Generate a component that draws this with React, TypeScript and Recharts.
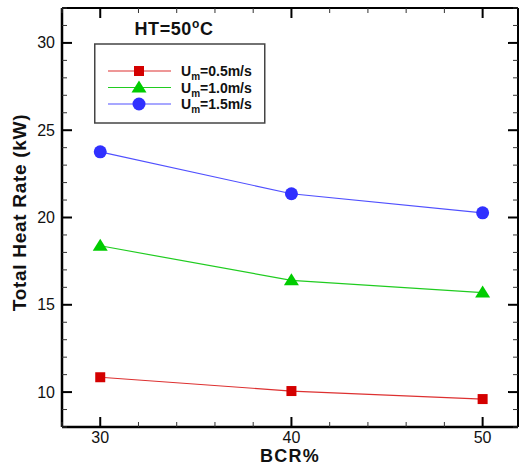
import React from 'react';
import { LineChart, Line, XAxis, YAxis, Legend, Label } from 'recharts';

const bcr = [30, 40, 50];
const um05 = [10.85, 10.06, 9.6];
const um10 = [18.38, 16.4, 15.7];
const um15 = [23.76, 21.36, 20.27];
const xTicks = [28, 30, 32, 34, 36, 38, 40, 42, 44, 46, 48, 50];
const yTicks = [8, 9, 10, 11, 12, 13, 14, 15, 16, 17, 18, 19, 20, 21, 22, 23, 24, 25, 26, 27, 28, 29, 30, 31, 32];
const xMajor = 10;
const yMajor = 5;
const seriesLabels = ['0.5', '1.0', '1.5'];
const titleText = 'HT=50';

const data = bcr.map((b, i) => ({ bcr: b, s05: um05[i], s10: um10[i], s15: um15[i] }));

const FONT = '"Liberation Sans", Arial, Helvetica, sans-serif';

const series = [
  { key: 's05', label: seriesLabels[0], line: '#dd3030', fill: '#d40000', shape: 'square' },
  { key: 's10', label: seriesLabels[1], line: '#20cc20', fill: '#00cc00', shape: 'triangle' },
  { key: 's15', label: seriesLabels[2], line: '#5050ff', fill: '#3030ff', shape: 'circle' },
];

const Marker = ({ cx, cy, shape, fill }: any) => {
  if (cx == null || cy == null) return null;
  if (shape === 'square') return <rect x={cx - 5} y={cy - 5} width={10} height={10} fill={fill} />;
  if (shape === 'triangle')
    return <polygon points={`${cx},${cy - 7} ${cx - 7.5},${cy + 5} ${cx + 7.5},${cy + 5}`} fill={fill} />;
  return <circle cx={cx} cy={cy} r={6.5} fill={fill} />;
};

const makeTick = (orient: string, majorStep: number, showLabel: boolean) => (props: any) => {
  const { x, y, payload } = props;
  const v = payload.value;
  const major = Math.abs(v % majorStep) < 1e-9;
  const len = major ? 10 : 5;
  const sw = major ? 2 : 1;
  const col = major ? '#000' : '#333';
  let ln: any = null;
  let tx: any = null;
  if (orient === 'left') {
    ln = <line x1={x} x2={x + len} y1={y} y2={y} stroke={col} strokeWidth={sw} />;
    if (showLabel && major)
      tx = <text x={x - 7} y={y + 5.5} textAnchor="end" fontSize={16} fontFamily={FONT} fill="#111">{v}</text>;
  } else if (orient === 'right') {
    ln = <line x1={x} x2={x - len} y1={y} y2={y} stroke={col} strokeWidth={sw} />;
  } else if (orient === 'bottom') {
    ln = <line x1={x} x2={x} y1={y} y2={y - len} stroke={col} strokeWidth={sw} />;
    if (showLabel && major)
      tx = <text x={x} y={y + 16.3} textAnchor="middle" fontSize={16} fontFamily={FONT} fill="#111">{v}</text>;
  } else {
    ln = <line x1={x} x2={x} y1={y} y2={y + len} stroke={col} strokeWidth={sw} />;
  }
  return (
    <g>
      {ln}
      {tx}
    </g>
  );
};

const YLabel = (props: any) => {
  const vb = props.viewBox || { x: 0, y: 8, width: 62, height: 419 };
  const x = vb.x + 26;
  const y = vb.y + vb.height / 2 - 5;
  return (
    <text x={x} y={y} transform={`rotate(-90, ${x}, ${y})`} textAnchor="middle" fontSize={19}
      fontWeight="bold" fontFamily={FONT} letterSpacing={0.7} fill="#111">
      Total Heat Rate (kW)
    </text>
  );
};

const XLabel = (props: any) => {
  const vb = props.viewBox || { x: 62, y: 427, width: 456, height: 42 };
  const x = vb.x + vb.width / 2;
  const y = vb.y + 35.3;
  return (
    <text x={x} y={y} textAnchor="middle" fontSize={18} fontWeight="bold" fontFamily={FONT} letterSpacing={1.2} fill="#111">
      BCR%
    </text>
  );
};

const LegendBox = () => (
  <svg width={200} height={115} style={{ overflow: 'visible', display: 'block' }}>
    <text x={80} y={21} textAnchor="middle" fontSize={18} fontWeight="bold" fontFamily={FONT} letterSpacing={0.6} fill="#111">
      {titleText}
      <tspan dy={-7.5} fontSize={12}>o</tspan>
      <tspan dy={7.5}>C</tspan>
    </text>
    <rect x={0.75} y={30} width={170} height={79} fill="#fff" stroke="#444" strokeWidth={1.5} />
    {series.map((s, i) => {
      const cy = 57 + i * 16.5;
      return (
        <g key={s.key}>
          <line x1={14} x2={77} y1={cy} y2={cy} stroke={s.line} strokeWidth={1.2} />
          <Marker cx={45} cy={cy} shape={s.shape} fill={s.fill} />
          <text x={87} y={cy + 5} fontSize={14} fontWeight="bold" fontFamily={FONT} fill="#111">
            U<tspan dy={4} fontSize={10}>m</tspan>
            <tspan dy={-4}>{`=${s.label}m/s`}</tspan>
          </text>
        </g>
      );
    })}
  </svg>
);

export default function App() {
  return (
    <div style={{ position: 'absolute', left: 0, top: 0, background: '#fff' }}>
      <LineChart width={520} height={469} data={data} margin={{ top: 0, right: 0, bottom: 0, left: 0 }}>
        <XAxis
          dataKey="bcr"
          type="number"
          domain={[28, 51.85]}
          allowDataOverflow
          ticks={xTicks}
          interval={0}
          height={42}
          tickLine={false}
          tickSize={0}
          tickMargin={0}
          axisLine={{ stroke: '#000', strokeWidth: 2.5 }}
          tick={makeTick('bottom', xMajor, true)}
        >
          <Label content={XLabel} />
        </XAxis>
        <XAxis
          xAxisId="t"
          orientation="top"
          dataKey="bcr"
          type="number"
          domain={[28, 51.85]}
          allowDataOverflow
          ticks={xTicks}
          interval={0}
          height={8}
          tickLine={false}
          tickSize={0}
          tickMargin={0}
          axisLine={{ stroke: '#000', strokeWidth: 2 }}
          tick={makeTick('top', xMajor, false)}
        />
        <YAxis
          type="number"
          domain={[8, 32]}
          allowDataOverflow
          ticks={yTicks}
          interval={0}
          width={62}
          tickLine={false}
          tickSize={0}
          tickMargin={0}
          axisLine={{ stroke: '#000', strokeWidth: 2.5 }}
          tick={makeTick('left', yMajor, true)}
        >
          <Label content={YLabel} />
        </YAxis>
        <YAxis
          yAxisId="r"
          orientation="right"
          type="number"
          domain={[8, 32]}
          allowDataOverflow
          ticks={yTicks}
          interval={0}
          width={2}
          tickLine={false}
          tickSize={0}
          tickMargin={0}
          axisLine={{ stroke: '#000', strokeWidth: 2 }}
          tick={makeTick('right', yMajor, false)}
        />
        <Legend
          layout="horizontal"
          verticalAlign="middle"
          align="center"
          width={200}
          height={115}
          wrapperStyle={{ left: 94, top: 14 }}
          content={() => <LegendBox />}
        />
        {series.map((s) => (
          <Line
            key={s.key}
            dataKey={s.key}
            stroke={s.line}
            strokeWidth={1.2}
            isAnimationActive={false}
            dot={(p: any) => <Marker key={`${s.key}-${p.index}`} cx={p.cx} cy={p.cy} shape={s.shape} fill={s.fill} />}
            activeDot={false}
          />
        ))}
      </LineChart>
    </div>
  );
}
